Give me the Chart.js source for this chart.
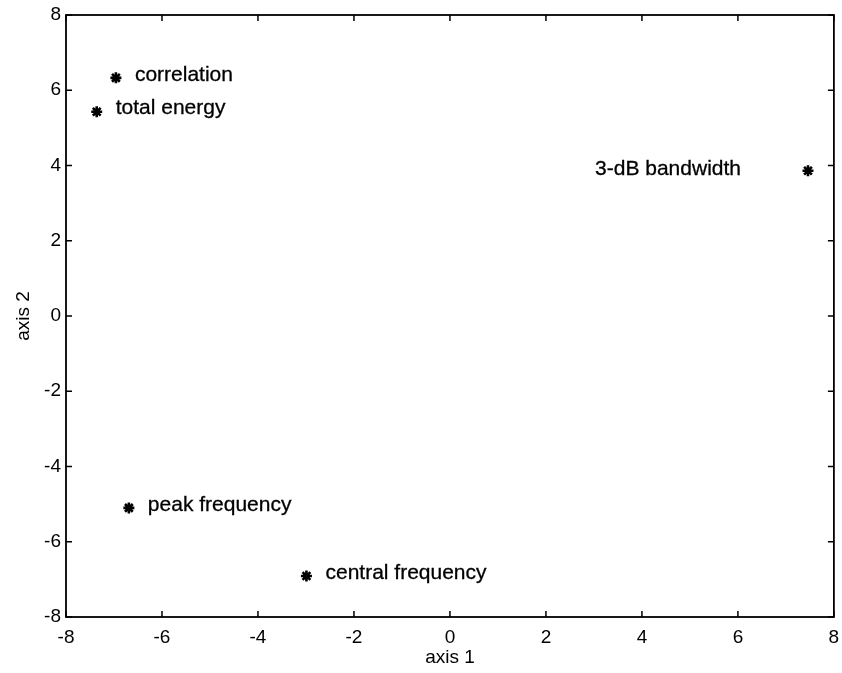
<!DOCTYPE html>
<html>
<head>
<meta charset="utf-8">
<script src="https://cdn.jsdelivr.net/npm/chart.js@4.4.1/dist/chart.umd.min.js"></script>
<style>
  html, body { margin: 0; padding: 0; background: #fff; }
  #wrap { width: 842px; height: 673px; }
</style>
</head>
<body>
<div id="wrap"><canvas id="c" width="842" height="673"></canvas></div>
<script>
// ---- data ----
const featureNames = ['correlation', 'total energy', '3-dB bandwidth', 'peak frequency', 'central frequency'];
const axis1Values = [-6.96, -7.36, 7.46, -6.69, -2.99];
const axis2Values = [6.33, 5.43, 3.86, -5.10, -6.91];
const xTickValues = [-8, -6, -4, -2, 0, 2, 4, 6, 8];
const yTickValues = [-8, -6, -4, -2, 0, 2, 4, 6, 8];
const xTitle = 'axis 1';
const yTitle = 'axis 2';

const FONT = "'Liberation Sans', Arial, Helvetica, sans-serif";

const framePlugin = {
  id: 'frame',
  afterDraw(chart) {
    const { ctx, chartArea: a, scales } = chart;
    ctx.save();
    ctx.strokeStyle = '#000';
    ctx.lineWidth = 1.8;
    ctx.strokeRect(a.left, a.top, a.right - a.left, a.bottom - a.top);
    const tl = 6;
    ctx.lineWidth = 1.5;
    ctx.beginPath();
    scales.x.ticks.forEach(t => {
      const px = scales.x.getPixelForValue(t.value);
      ctx.moveTo(px, a.bottom); ctx.lineTo(px, a.bottom - tl);
      ctx.moveTo(px, a.top); ctx.lineTo(px, a.top + tl);
    });
    scales.y.ticks.forEach(t => {
      const py = scales.y.getPixelForValue(t.value);
      ctx.moveTo(a.left, py); ctx.lineTo(a.left + tl, py);
      ctx.moveTo(a.right, py); ctx.lineTo(a.right - tl, py);
    });
    ctx.stroke();
    ctx.restore();
  }
};

const labelPlugin = {
  id: 'pointLabels',
  afterDatasetsDraw(chart) {
    const { ctx, chartArea: a } = chart;
    const meta = chart.getDatasetMeta(0);
    ctx.save();
    ctx.fillStyle = '#000';
    ctx.strokeStyle = '#000';
    ctx.lineWidth = 0.3;
    ctx.font = "21px " + FONT;
    ctx.textBaseline = 'middle';
    meta.data.forEach((el, i) => {
      const text = featureNames[i];
      const w = ctx.measureText(text).width;
      const gap = 19;
      let tx, ty;
      if (el.x + gap + w > a.right) {
        ctx.textAlign = 'right';
        tx = el.x - 67; ty = el.y - 2;
      } else {
        ctx.textAlign = 'left';
        tx = el.x + gap; ty = el.y - 3;
      }
      ctx.fillText(text, tx, ty);
      ctx.strokeText(text, tx, ty);
    });
    ctx.restore();
  }
};

new Chart(document.getElementById('c'), {
  type: 'scatter',
  data: {
    datasets: [{
      data: axis1Values.map((x, i) => ({ x: x, y: axis2Values[i] })),
      pointStyle: 'star',
      radius: 5.5,
      hoverRadius: 5.5,
      borderWidth: 2.6,
      borderColor: '#000',
      backgroundColor: '#000'
    }]
  },
  options: {
    responsive: false,
    animation: false,
    events: [],
    layout: { padding: { top: 15, right: 6, left: 0, bottom: 0 } },
    plugins: { legend: { display: false }, tooltip: { enabled: false } },
    scales: {
      x: {
        type: 'linear',
        min: -8, max: 8,
        afterBuildTicks: s => { s.ticks = xTickValues.map(v => ({ value: v })); },
        afterFit: s => { s.height = 56; s.paddingRight = 0; s.paddingLeft = 0; },
        grid: { display: false, drawTicks: false },
        border: { display: false },
        ticks: { color: '#000', font: { family: FONT, size: 19 }, padding: 9, maxRotation: 0, autoSkip: false },
        title: { display: true, text: xTitle, color: '#000', font: { family: FONT, size: 19 }, padding: { top: 0, bottom: 4 } }
      },
      y: {
        type: 'linear',
        min: -8, max: 8,
        afterBuildTicks: s => { s.ticks = yTickValues.map(v => ({ value: v })); },
        afterFit: s => { s.width = 66; s.paddingTop = 0; s.paddingBottom = 0; },
        grid: { display: false, drawTicks: false },
        border: { display: false },
        ticks: { color: '#000', font: { family: FONT, size: 19 }, padding: 5, autoSkip: false },
        title: { display: true, text: yTitle, color: '#000', font: { family: FONT, size: 19 }, padding: { top: 12, bottom: 0 } }
      }
    }
  },
  plugins: [framePlugin, labelPlugin]
});
</script>
</body>
</html>
